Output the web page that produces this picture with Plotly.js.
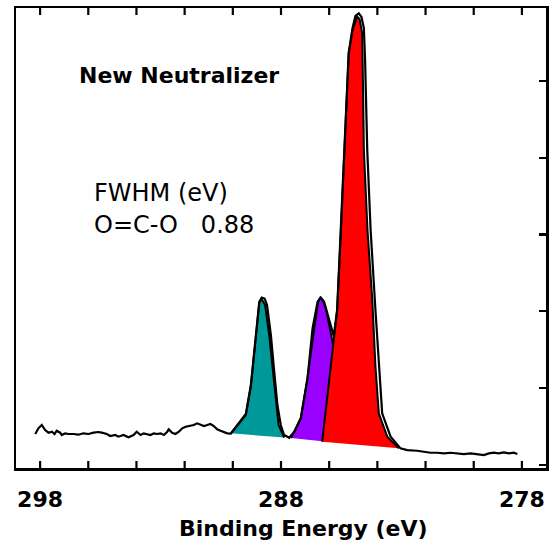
<!DOCTYPE html>
<html>
<head>
<meta charset="utf-8">
<script src="https://cdn.plot.ly/plotly-3.0.1.min.js"></script>
<style>html,body{margin:0;padding:0;background:#fff;}#chart{width:560px;height:548px;}</style>
</head>
<body>
<div id="chart"></div>
<script>
// Measured spectrum (envelope), binding energy in eV and intensity in counts
const energy = [
 298.20,298.07,297.93,297.79,297.65,297.51,297.40,297.31,297.17,297.10,296.96,296.82,296.61,296.41,296.20,295.99,
 295.78,295.58,295.44,295.23,295.09,294.88,294.75,294.54,294.33,294.12,293.99,293.83,293.70,293.55,293.42,293.28,
 293.14,293.00,292.86,292.72,292.66,292.52,292.38,292.24,292.10,291.96,291.83,291.62,291.48,291.34,291.20,291.06,
 290.93,290.79,290.65,290.51,290.37,290.23,290.08,
 289.46,289.25,289.05,288.90,288.80,288.68,288.58,288.42,288.28,288.15,288.01,287.87,287.66,287.45,287.18,286.90,
 286.69,286.48,286.35,286.21,286.08,285.95,285.81,285.67,285.53,285.39,285.28,285.19,285.03,284.91,284.77,284.66,
 284.56,284.51,284.42,284.28,284.08,283.94,283.80,283.45,283.04,282.76,
 282.62,282.35,282.07,281.79,281.52,281.24,280.96,280.69,280.41,280.13,279.86,279.58,279.37,279.17,278.96,278.75,
 278.54,278.34,278.19
];
const counts = [
 401,475,518,453,418,431,401,444,418,388,410,401,401,392,410,401,
 418,427,418,401,375,388,366,388,358,388,431,388,410,401,388,410,
 401,410,388,431,462,418,401,431,475,496,505,518,540,518,505,518,
 531,505,462,444,431,410,407,
 661,1039,1690,2124,2179,2166,2081,1690,1212,779,518,388,352,431,605,1126,
 1778,2124,2179,2124,1977,1821,1677,2016,3059,3971,4752,5365,5690,5847,5882,5834,
 5690,5274,4101,3059,2016,1278,670,366,214,192,
 192,183,170,157,157,149,157,149,140,149,140,127,149,157,149,162,
 149,157,140
];

// Fitted components (outline of each filled peak above the linear background)
const ococ_x = [290.08,289.46,289.25,289.05,288.90,288.80,288.66,288.49,288.35,288.22,288.10,287.87];
const ococ_y = [410,648,1026,1677,2120,2160,2081,1690,1261,822,518,355];

const co_x = [287.59,287.45,287.18,286.90,286.62,286.46,286.37,286.28,286.14,285.97,285.86,285.74,286.28];
const co_y = [349,427,605,1126,1778,2120,2177,2147,2038,1778,1603,1300,306];

const cc_x = [286.29,285.80,285.67,285.53,285.39,285.30,285.19,285.03,284.84,284.74,284.63,284.60,284.56,284.41,284.21,284.08,283.94,283.59,283.11];
const cc_y = [300,1625,2016,2928,3971,4622,5361,5664,5838,5808,5625,5013,4101,3059,2147,1278,670,366,214];

// Labelled ticks and the 2 eV tick marks
const xTickVals = [298, 288, 278];
const xTickText = ['298', '288', '278'];
const xMarkVals = [298, 296, 294, 292, 290, 288, 286, 284, 282, 280, 278];

const comp = (x, y, color, name) => ({
  x: x, y: y, type: 'scatter', mode: 'lines', fill: 'toself', fillcolor: color,
  line: {color: '#000', width: 2}, name: name, hoverinfo: 'skip'
});

const data = [
  comp(ococ_x, ococ_y, 'rgb(0,153,153)', 'O=C-O'),
  comp(co_x, co_y, 'rgb(153,0,255)', 'C-O'),
  comp(cc_x, cc_y, 'rgb(255,0,0)', 'C-C'),
  {x: energy, y: counts, type: 'scatter', mode: 'lines', line: {color: '#000', width: 2.2}, name: 'Spectrum'}
];

// Inside tick marks along bottom and top frame, placed through the x scale
const tickFrac = 7 / 460;
const tickShapes = [];
xMarkVals.forEach(v => {
  tickShapes.push({type: 'line', xref: 'x', yref: 'paper', x0: v, x1: v, y0: 0, y1: tickFrac, line: {color: '#000', width: 2.2}});
  tickShapes.push({type: 'line', xref: 'x', yref: 'paper', x0: v, x1: v, y0: 1, y1: 1 - tickFrac, line: {color: '#000', width: 2.2}});
});

const layout = {
  width: 560, height: 548,
  margin: {l: 16, r: 14, t: 8, b: 80},
  paper_bgcolor: '#fff', plot_bgcolor: '#fff',
  showlegend: false,
  font: {family: 'DejaVu Sans', color: '#000'},
  xaxis: {
    range: [299, 277], autorange: false,
    tickmode: 'array', tickvals: xTickVals, ticktext: xTickText,
    ticks: 'inside', ticklen: 7, tickwidth: 2.2, tickcolor: '#000',
    showline: true, linecolor: '#000', linewidth: 2.5, mirror: 'ticks',
    showgrid: false, zeroline: false,
    tickfont: {family: 'DejaVu Sans', size: 22, weight: 'bold', color: '#000'},
    ticklabelstandoff: 10
  },
  yaxis: {
    range: [-42, 5951], autorange: false,
    side: 'right', tick0: 0, dtick: 1000,
    ticks: 'inside', ticklen: 7, tickwidth: 2.2, tickcolor: '#000',
    showticklabels: false,
    showline: true, linecolor: '#000', linewidth: 2.5, mirror: true,
    showgrid: false, zeroline: false
  },
  shapes: tickShapes,
  annotations: [
    {text: 'New Neutralizer', xref: 'paper', yref: 'paper', x: 0.116, y: 0.854, xanchor: 'left', yanchor: 'middle',
     showarrow: false, font: {family: 'DejaVu Sans', size: 22, weight: 'bold', color: '#000'}},
    {text: 'FWHM (eV)', xref: 'paper', yref: 'paper', x: 0.144, y: 0.598, xanchor: 'left', yanchor: 'middle',
     showarrow: false, font: {family: 'DejaVu Sans', size: 24, color: '#000'}},
    {text: 'O=C-O   0.88', xref: 'paper', yref: 'paper', x: 0.144, y: 0.528, xanchor: 'left', yanchor: 'middle',
     showarrow: false, font: {family: 'DejaVu Sans', size: 24, color: '#000'}},
    {text: 'Binding Energy (eV)', xref: 'paper', yref: 'paper', x: 0.542, y: -0.132, xanchor: 'center', yanchor: 'middle',
     showarrow: false, font: {family: 'DejaVu Sans', size: 22, weight: 'bold', color: '#000'}}
  ]
};

Plotly.newPlot('chart', data, layout, {staticPlot: true, displayModeBar: false});
</script>
</body>
</html>
